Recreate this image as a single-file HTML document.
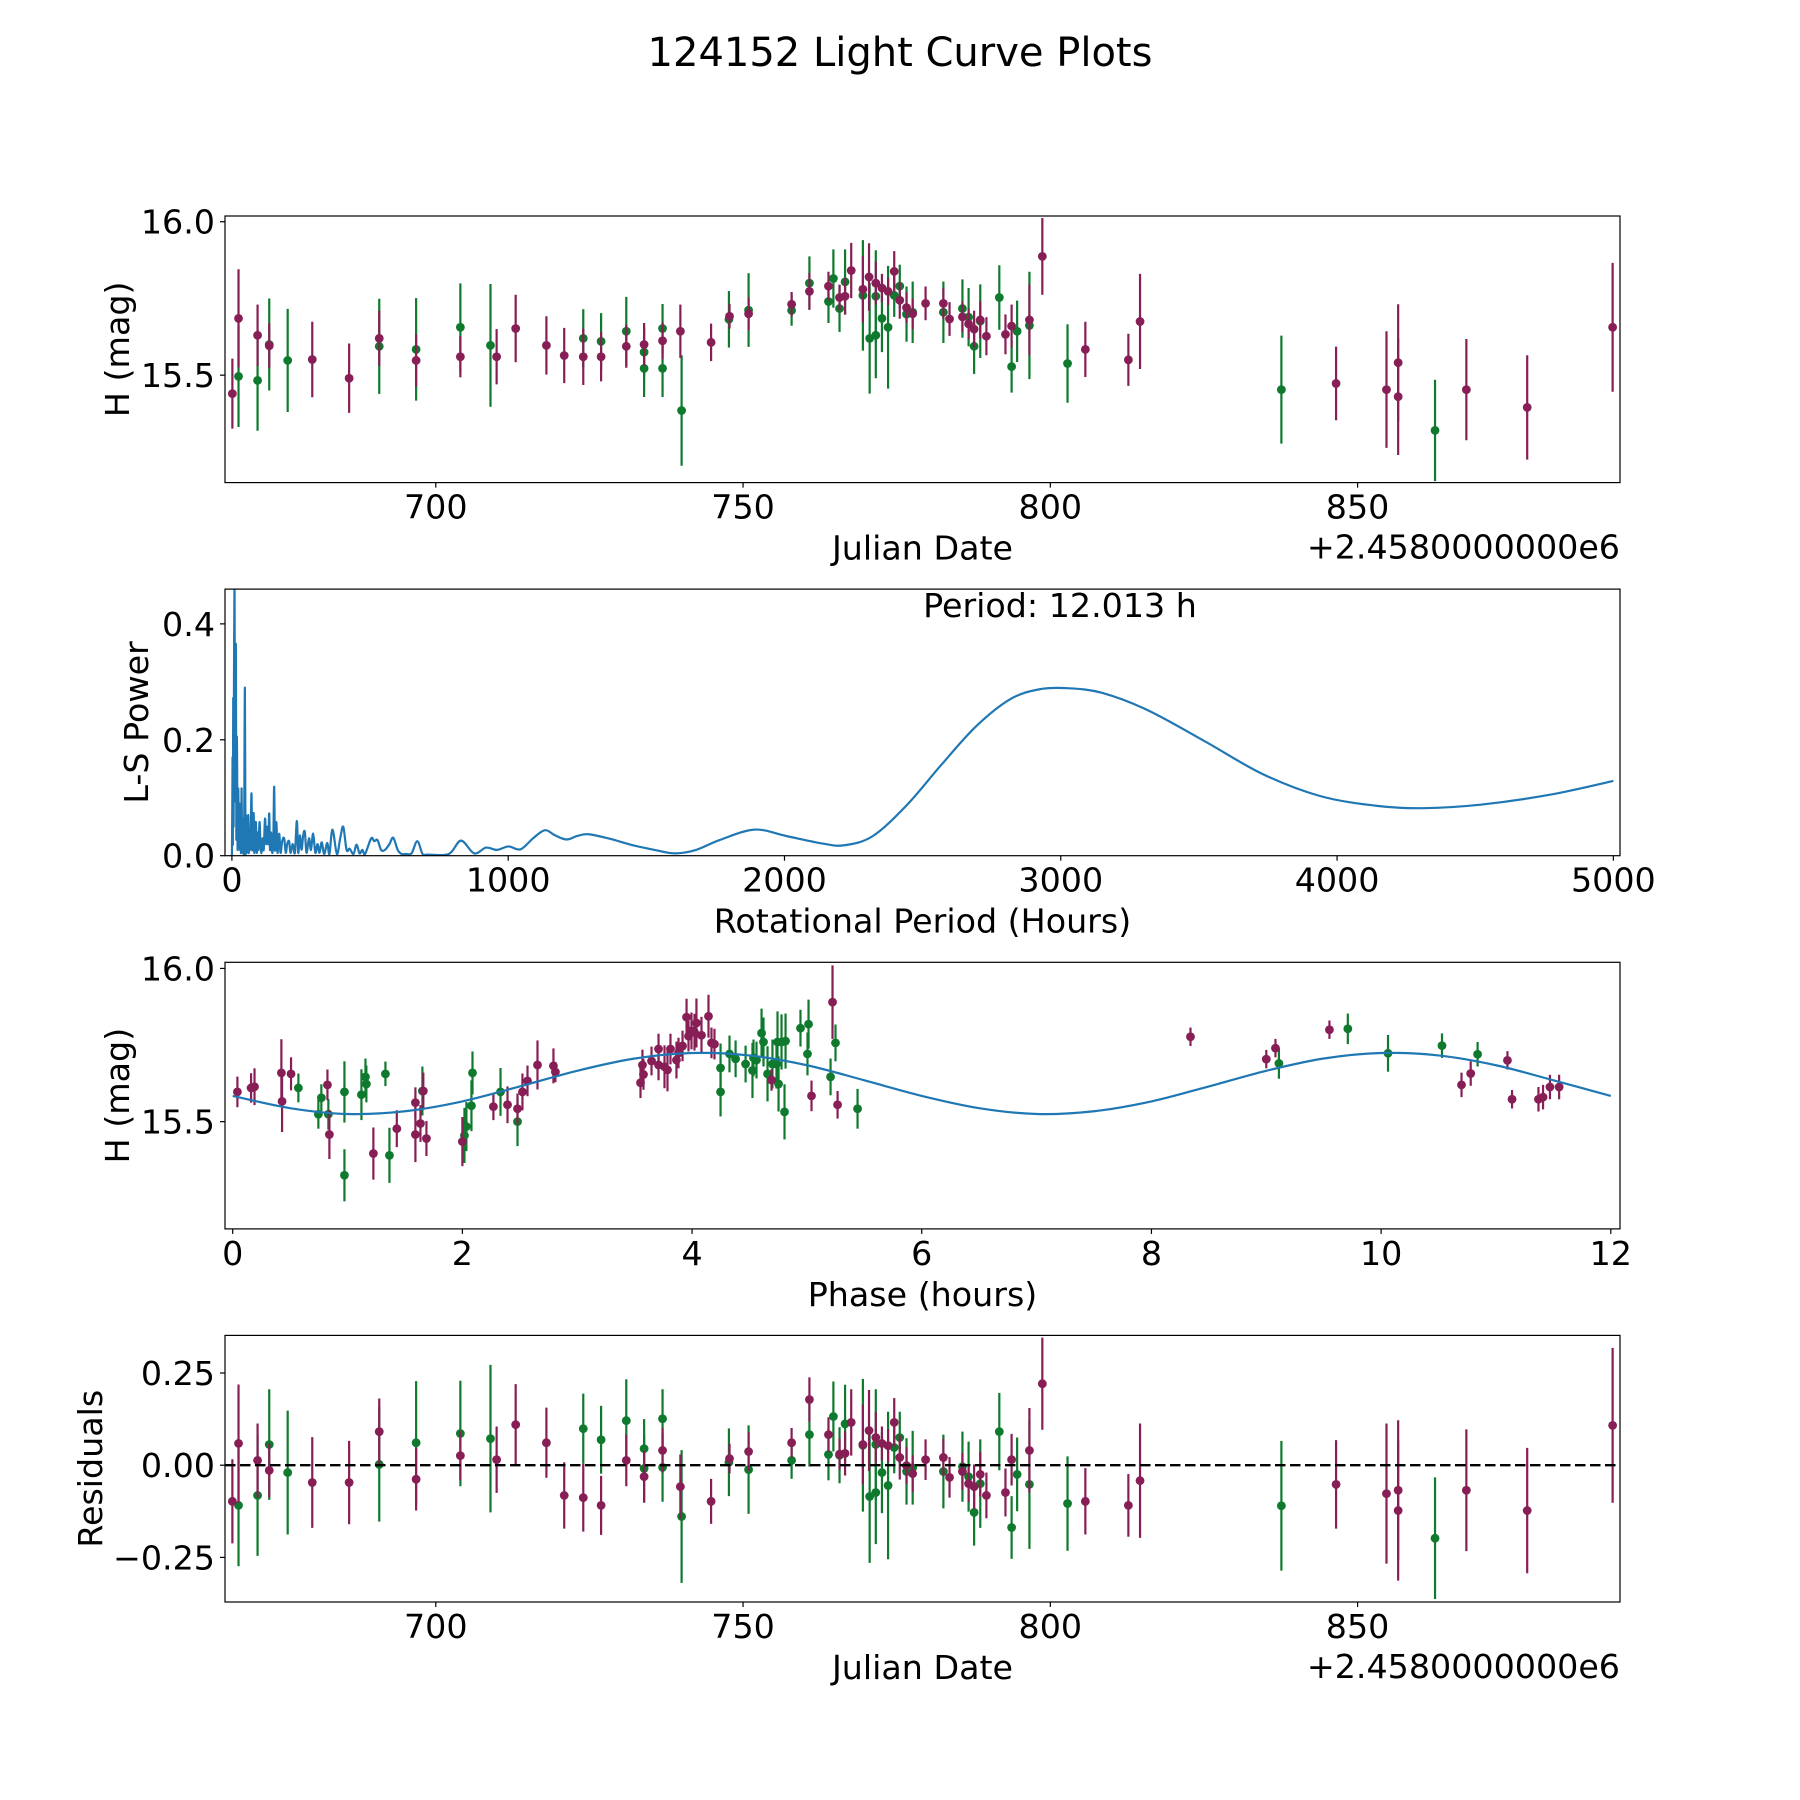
<!DOCTYPE html>
<html>
<head>
<meta charset="utf-8">
<style>
  html, body { margin: 0; padding: 0; background: #ffffff; }
  svg { display: block; font-family: "DejaVu Sans", "Liberation Sans", sans-serif; }
</style>
</head>
<body>
<svg id="fig" width="1800" height="1800" viewBox="0 0 1800 1800" xmlns="http://www.w3.org/2000/svg">
  <rect x="0" y="0" width="1800" height="1800" fill="#ffffff"/>
  <text x="900" y="66" font-size="40" text-anchor="middle" fill="#000">124152 Light Curve Plots</text>
</svg>
<script>
// ---------- Light curve data (Julian Date offset from 2458000) ----------
const lcDate = [666.9,667.9,667.9,671.0,671.0,672.9,672.9,675.9,679.9,685.9,
  690.8,690.8,696.8,696.8,704.0,704.0,708.9,709.9,713.0,718.0,
  720.9,724.0,724.0,726.9,726.9,731.0,731.0,733.9,733.9,733.9,
  736.9,736.9,736.9,739.8,740.0,744.8,747.7,747.8,750.9,750.9,
  757.9,757.9,760.8,760.8,763.9,763.9,764.7,765.7,765.7,766.6,
  766.6,767.6,769.5,769.5,770.5,770.6,771.6,771.6,771.6,772.6,
  772.6,773.6,773.6,774.6,774.6,775.5,775.5,776.6,776.6,777.6,
  777.6,779.7,782.6,782.6,783.6,785.7,785.7,786.7,786.7,787.6,
  787.6,788.6,788.6,789.6,791.7,792.7,793.7,793.7,794.6,796.6,
  796.6,798.7,802.8,805.7,812.7,814.6,837.6,846.5,854.7,856.6,
  856.6,862.6,867.7,877.6,891.5];
const lcMag = [15.44,15.685,15.496,15.63,15.483,15.596,15.60,15.548,15.551,15.49,
  15.62,15.594,15.584,15.548,15.656,15.56,15.597,15.56,15.652,15.597,
  15.564,15.62,15.56,15.61,15.56,15.643,15.594,15.60,15.575,15.522,
  15.612,15.652,15.522,15.643,15.385,15.607,15.682,15.692,15.712,15.70,
  15.711,15.731,15.80,15.773,15.79,15.74,15.815,15.717,15.753,15.804,
  15.757,15.841,15.78,15.76,15.82,15.62,15.80,15.757,15.63,15.784,
  15.685,15.773,15.656,15.838,15.76,15.79,15.744,15.72,15.699,15.705,
  15.70,15.734,15.705,15.734,15.683,15.717,15.69,15.689,15.667,15.65,
  15.594,15.676,15.68,15.627,15.753,15.633,15.66,15.528,15.643,15.68,
  15.662,15.887,15.538,15.584,15.55,15.675,15.453,15.473,15.453,15.541,
  15.43,15.32,15.453,15.395,15.656];
const lcErr = [0.114,0.16,0.165,0.1,0.164,0.073,0.15,0.168,0.123,0.113,
  0.09,0.155,0.167,0.085,0.143,0.067,0.2,0.09,0.11,0.095,
  0.09,0.095,0.092,0.092,0.08,0.112,0.07,0.07,0.08,0.093,
  0.06,0.08,0.093,0.087,0.18,0.061,0.092,0.04,0.12,0.053,
  0.05,0.04,0.087,0.06,0.047,0.07,0.095,0.076,0.042,0.106,
  0.06,0.09,0.108,0.18,0.11,0.18,0.07,0.15,0.14,0.046,
  0.11,0.045,0.2,0.066,0.07,0.07,0.06,0.05,0.09,0.1,
  0.05,0.055,0.1,0.05,0.055,0.095,0.05,0.095,0.05,0.06,
  0.09,0.12,0.06,0.062,0.105,0.065,0.07,0.085,0.1,0.115,
  0.175,0.125,0.128,0.09,0.085,0.155,0.176,0.12,0.19,0.19,
  0.19,0.165,0.165,0.17,0.21];
const lcFilter = ["m","m","g","m","g","m","g","g","m","m",
  "m","g","g","m","g","m","g","m","m","m",
  "m","g","m","g","m","g","m","m","g","g",
  "m","g","g","m","g","m","g","m","g","m",
  "g","m","g","m","m","g","g","g","m","g",
  "m","m","m","g","m","g","m","g","g","m",
  "g","m","g","m","g","g","m","m","g","g",
  "m","m","g","m","m","g","m","g","m","m",
  "g","g","m","m","g","m","m","g","g","m",
  "g","m","g","m","m","m","g","m","m","m",
  "m","g","m","m","m"];
const lcResid = [-0.098,0.059,-0.109,0.013,-0.082,-0.014,0.056,-0.02,-0.047,-0.047,
  0.091,0.002,0.061,-0.038,0.086,0.026,0.072,0.015,0.11,0.061,
  -0.082,0.099,-0.088,0.069,-0.109,0.121,0.013,-0.031,0.045,-0.009,
  0.04,0.126,-0.006,-0.058,-0.139,-0.098,0.008,0.018,-0.012,0.037,
  0.013,0.061,0.083,0.178,0.083,0.029,0.132,0.027,0.03,0.112,
  0.032,0.116,0.056,0.054,0.094,-0.085,0.075,0.056,-0.074,0.059,
  -0.02,0.053,-0.055,0.116,0.048,0.075,0.021,-0.001,-0.017,-0.007,
  -0.023,0.015,-0.017,0.021,-0.033,-0.004,-0.017,-0.031,-0.05,-0.058,
  -0.128,-0.05,-0.025,-0.082,0.091,-0.074,0.015,-0.169,-0.025,0.04,
  -0.052,0.221,-0.104,-0.098,-0.109,-0.042,-0.11,-0.052,-0.077,-0.068,
  -0.123,-0.198,-0.068,-0.123,0.108];

// ---------- Periodogram data ----------
const pgPeriod = [0,1.5,2.4,3.3,4.8,6,7.5,9.6,11,12.5,14.4,16,17.5,19,20.5,23,25,27,29,31,33,35,37,38.5,40,42,44,47,49,50.6,53,55,57,59,61,63,65,68,71,73,76,79,81,84,87,90,93,96,100,103.5,107,111,115,120,124,128,132,135,138,142,146,150,153,156,161,165,171,176,182,189,195,200,207,212,220,228,235,240,246,252,258,264,270,279,286,294,302,310,317,325,334,345,353,364,380,392,403,415,426,440,451,462,472,482,504,515,527,540,554,570,584,600,614,630,650,671,690,707,785,829,877,920,959,1001,1045,1090,1133,1170,1211,1250,1290,1370,1452,1530,1602,1680,1765,1891,2006,2138,2216,2320,2444,2568,2693,2817,2921,3025,3149,3315,3523,3730,3938,4145,4311,4519,4768,5000];
const pgPower = [0,0.09,0.168,0.02,0.272,0.05,0.3,0.468,0.1,0.25,0.358,0.03,0.2,0.15,0.01,0.116,0.02,0.09,0.01,0.07,0.005,0.116,0.01,0.064,0.005,0.06,0.01,0.29,0.01,0.07,0.005,0.05,0.01,0.07,0.005,0.045,0.01,0.05,0.107,0.01,0.06,0.07,0.005,0.045,0.056,0.005,0.04,0.01,0.058,0.02,0.005,0.03,0.01,0.064,0.02,0.05,0.02,0.073,0.01,0.04,0.005,0.03,0.119,0.01,0.058,0.005,0.038,0.005,0.025,0.03,0.005,0.02,0.025,0.005,0.02,0.005,0.06,0.005,0.035,0.01,0.035,0.041,0.005,0.03,0.01,0.038,0.005,0.02,0.005,0.023,0.003,0.022,0.003,0.045,0.003,0.03,0.05,0.01,0.012,0.003,0.019,0.004,0.01,0.003,0.03,0.025,0.027,0.01,0.01,0.02,0.031,0.01,0.003,0.003,0.004,0.025,0.003,0.002,0.003,0.026,0.004,0.014,0.01,0.016,0.011,0.03,0.044,0.035,0.028,0.034,0.037,0.029,0.018,0.01,0.004,0.01,0.027,0.045,0.034,0.021,0.018,0.034,0.088,0.157,0.223,0.27,0.287,0.289,0.281,0.251,0.197,0.141,0.103,0.086,0.082,0.088,0.105,0.129];

// ---------- Phase-folded data (hours) ----------
const phPhase = [0.041,0.16,0.19,0.424,0.43,0.508,0.572,0.746,0.772,0.825,0.833,0.842,0.973,0.973,1.121,1.156,1.164,1.225,1.33,1.365,1.429,1.591,1.591,1.635,1.652,1.66,1.687,2.0,2.018,2.035,2.079,2.088,2.27,2.332,2.393,2.48,2.48,2.523,2.567,2.654,2.793,2.81,
  3.551,3.568,3.577,3.647,3.708,3.708,3.76,3.786,3.812,3.864,3.882,3.917,3.952,3.969,3.995,4.021,4.038,4.082,4.143,4.169,4.195,4.248,4.248,4.326,4.379,4.466,4.526,4.535,4.561,4.605,4.622,4.657,4.692,4.70,4.735,4.744,4.753,4.779,4.805,4.814,4.944,5.005,5.014,5.04,5.206,5.223,5.249,5.267,5.441,
  8.34,9.0,9.08,9.11,9.55,9.71,10.06,10.53,10.70,10.78,10.84,11.1,11.14,11.37,11.41,11.47,11.55];
const phMag = [15.597,15.61,15.614,15.659,15.566,15.656,15.61,15.524,15.578,15.62,15.524,15.458,15.597,15.325,15.588,15.646,15.623,15.396,15.656,15.39,15.477,15.562,15.458,15.494,15.6,15.6,15.445,15.435,15.455,15.484,15.552,15.659,15.549,15.597,15.555,15.542,15.5,15.597,15.633,15.685,15.682,15.662,
  15.627,15.685,15.654,15.698,15.737,15.685,15.679,15.669,15.737,15.701,15.724,15.747,15.841,15.779,15.796,15.792,15.822,15.782,15.844,15.757,15.753,15.675,15.597,15.721,15.705,15.688,15.667,15.708,15.701,15.789,15.76,15.656,15.636,15.688,15.688,15.76,15.623,15.76,15.532,15.763,15.805,15.721,15.818,15.584,15.646,15.89,15.757,15.555,15.542,
  15.777,15.704,15.74,15.69,15.8,15.803,15.723,15.748,15.62,15.657,15.72,15.70,15.573,15.573,15.58,15.613,15.613];
const phErr = [0.05,0.048,0.06,0.11,0.1,0.054,0.047,0.047,0.044,0.05,0.05,0.08,0.1,0.085,0.083,0.06,0.06,0.085,0.04,0.09,0.06,0.05,0.09,0.06,0.08,0.06,0.057,0.08,0.09,0.08,0.083,0.07,0.044,0.078,0.06,0.05,0.08,0.06,0.05,0.08,0.057,0.033,
  0.05,0.05,0.05,0.047,0.05,0.05,0.07,0.07,0.05,0.06,0.05,0.05,0.06,0.05,0.06,0.06,0.08,0.06,0.07,0.05,0.05,0.08,0.08,0.06,0.06,0.06,0.09,0.06,0.06,0.08,0.08,0.09,0.035,0.08,0.08,0.1,0.09,0.09,0.09,0.09,0.06,0.07,0.08,0.05,0.06,0.12,0.06,0.045,0.065,
  0.03,0.03,0.03,0.05,0.03,0.05,0.06,0.04,0.04,0.04,0.04,0.03,0.03,0.04,0.04,0.04,0.04];
const phFilter = ["m","m","m","m","m","m","g","g","g","m","g","m","g","g","g","g","g","m","g","g","m","m","m","m","g","m","m","m","g","g","g","g","m","g","m","m","g","m","m","m","m","m",
  "m","m","m","m","m","m","m","m","m","m","m","m","m","m","m","m","m","m","m","m","m","g","g","g","g","g","g","g","g","g","g","g","m","g","g","g","g","g","g","g","g","g","g","m","g","m","g","m","g",
  "m","m","m","g","m","g","g","g","m","m","g","m","m","m","m","m","m"];

// ---------- Fitted model (sampled) ----------
const fitPhase = [0,0.5,1,1.5,2,2.5,3,3.5,4,4.5,5,5.5,6,6.5,7,7.5,8,8.5,9,9.5,10,10.5,11,11.5,12];
const fitMag = [15.584,15.544,15.525,15.534,15.566,15.615,15.666,15.706,15.724,15.716,15.684,15.635,15.584,15.544,15.525,15.534,15.566,15.615,15.666,15.706,15.724,15.716,15.684,15.635,15.584];

// ---------- Tick labels ----------
const jdTicks = [700, 750, 800, 850];
const magTicks = [15.5, 16.0];
const pgXTicks = [0, 1000, 2000, 3000, 4000, 5000];
const pgYTicks = [0.0, 0.2, 0.4];
const phXTicks = [0, 2, 4, 6, 8, 10, 12];
const resTicks = [-0.25, 0.0, 0.25];

const NS = "http://www.w3.org/2000/svg";
const svg = document.getElementById("fig");
const COL = { m: "#871e55", g: "#0f7a2d" };
const L = 225, R = 1620, H = 266.6;
const TOPS = [216, 589.1, 962.3, 1335.4];
const FS = 33.3;

function el(tag, attrs, parent) {
  const e = document.createElementNS(NS, tag);
  for (const k in attrs) e.setAttribute(k, attrs[k]);
  (parent || svg).appendChild(e);
  return e;
}
function linScale(d0, d1, r0, r1) { return v => r0 + (v - d0) / (d1 - d0) * (r1 - r0); }
function fmtMinus(s) { return s.replace("-", "\u2212"); }

function makePanel(idx, name, xd, yd) {
  const top = TOPS[idx], bot = top + H;
  const g = el("g", {});
  
  
  const clipId = "clip" + idx;
  const cp = el("clipPath", { id: clipId }, g);
  el("rect", { x: L, y: top, width: R - L, height: H }, cp);
  const plot = el("g", { "clip-path": "url(#" + clipId + ")" }, g);
  
  
  return { g, plot, top, bot, sx: linScale(xd[0], xd[1], L, R), sy: linScale(yd[0], yd[1], bot, top) };
}
function drawFrame(p, name) {
  const f = el("rect", { x: L, y: p.top, width: R - L, height: H, fill: "none", stroke: "#000", "stroke-width": 1.2 }, p.g);
  
  
}
function xTicks(p, ticks, fmt, name) {
  ticks.forEach(t => {
    const x = p.sx(t);
    const tl = el("line", { x1: x, x2: x, y1: p.bot, y2: p.bot + 5, stroke: "#000", "stroke-width": 1.2 }, p.g);
    
    
    const tx = el("text", { x: x, y: p.bot + 36, "font-size": FS, "text-anchor": "middle", fill: "#000" }, p.g);
    tx.textContent = fmt(t);
    
    
  });
}
function yTicks(p, ticks, fmt, name) {
  ticks.forEach(t => {
    const y = p.sy(t);
    const tl = el("line", { x1: L - 5, x2: L, y1: y, y2: y, stroke: "#000", "stroke-width": 1.2 }, p.g);
    
    
    const tx = el("text", { x: L - 10, y: y + 12, "font-size": FS, "text-anchor": "end", fill: "#000" }, p.g);
    tx.textContent = fmtMinus(fmt(t));
    
    
  });
}
function xLabel(p, txt, name) {
  const t = el("text", { x: (L + R) / 2, y: p.bot + 77, "font-size": FS, "text-anchor": "middle", fill: "#000" }, p.g);
  t.textContent = txt;
  
  
}
function yLabel(p, txt, bx, name) {
  const cy = p.top + H / 2;
  const t = el("text", { x: bx, y: cy, "font-size": FS, "text-anchor": "middle", fill: "#000", transform: "rotate(-90 " + bx + " " + cy + ")" }, p.g);
  t.textContent = txt;
  
  
}
function offsetText(p, name) {
  const t = el("text", { x: R, y: p.bot + 76, "font-size": FS, "text-anchor": "end", fill: "#000" }, p.g);
  t.textContent = "+2.4580000000e6";
  
  
}
function errPoints(p, xs, ys, es, fs, name) {
  ["g", "m"].forEach(f => {
    xs.forEach((xv, i) => {
      if (fs[i] !== f) return;
      const x = p.sx(xv);
      const ln = el("line", { x1: x, x2: x, y1: p.sy(ys[i] - es[i]), y2: p.sy(ys[i] + es[i]), stroke: COL[f], "stroke-width": 2.2 }, p.plot);
      
      
    });
    xs.forEach((xv, i) => {
      if (fs[i] !== f) return;
      const c = el("circle", { cx: p.sx(xv), cy: p.sy(ys[i]), r: 4.4, fill: COL[f] }, p.plot);
      
      
    });
  });
}
function smoothPath(pts) {
  let d = "M" + pts[0][0].toFixed(2) + "," + pts[0][1].toFixed(2);
  for (let i = 0; i < pts.length - 1; i++) {
    const p0 = pts[Math.max(0, i - 1)], p1 = pts[i], p2 = pts[i + 1], p3 = pts[Math.min(pts.length - 1, i + 2)];
    const c1x = p1[0] + (p2[0] - p0[0]) / 6, c1y = p1[1] + (p2[1] - p0[1]) / 6;
    const c2x = p2[0] - (p3[0] - p1[0]) / 6, c2y = p2[1] - (p3[1] - p1[1]) / 6;
    d += " C" + c1x.toFixed(2) + "," + c1y.toFixed(2) + " " + c2x.toFixed(2) + "," + c2y.toFixed(2) + " " + p2[0].toFixed(2) + "," + p2[1].toFixed(2);
  }
  return d;
}

// ---------- Panel 1: light curve vs Julian date ----------
const p1 = makePanel(0, "light-curve-panel", [665.7, 892.7], [15.15, 16.0186]);
errPoints(p1, lcDate, lcMag, lcErr, lcFilter, "light-curve");
drawFrame(p1, "light-curve");
xTicks(p1, jdTicks, t => String(t), "light-curve");
yTicks(p1, magTicks, t => t.toFixed(1), "light-curve");
xLabel(p1, "Julian Date", "light-curve-x-axis-title");
yLabel(p1, "H (mag)", 129, "light-curve-y-axis-title");
offsetText(p1, "light-curve-offset-text");

// ---------- Panel 2: periodogram ----------
const p2 = makePanel(1, "periodogram-panel", [-25, 5024], [0, 0.46]);
{
  const pts = pgPeriod.map((h, i) => [p2.sx(h), p2.sy(pgPower[i])]);
  const path = el("path", { d: smoothPath(pts), fill: "none", stroke: "#1f77b4", "stroke-width": 2.2, "stroke-linejoin": "round" }, p2.plot);
  
  
}
drawFrame(p2, "periodogram");
xTicks(p2, pgXTicks, t => String(t), "periodogram");
yTicks(p2, pgYTicks, t => t.toFixed(1), "periodogram");
xLabel(p2, "Rotational Period (Hours)", "periodogram-x-axis-title");
yLabel(p2, "L-S Power", 148, "periodogram-y-axis-title");
{
  const t = el("text", { x: 1060, y: 617, "font-size": 33.3, "text-anchor": "middle", fill: "#000" }, p2.g);
  t.textContent = "Period: 12.013 h";
  
  
}

// ---------- Panel 3: phase-folded ----------
const p3 = makePanel(2, "phase-panel", [-0.067, 12.08], [15.15, 16.02]);
errPoints(p3, phPhase, phMag, phErr, phFilter, "phase");
{
  const pts = fitPhase.map((ph, i) => [p3.sx(ph), p3.sy(fitMag[i])]);
  const path = el("path", { d: smoothPath(pts), fill: "none", stroke: "#1f77b4", "stroke-width": 2.2 }, p3.plot);
  
  
}
drawFrame(p3, "phase");
xTicks(p3, phXTicks, t => String(t), "phase");
yTicks(p3, magTicks, t => t.toFixed(1), "phase");
xLabel(p3, "Phase (hours)", "phase-x-axis-title");
yLabel(p3, "H (mag)", 129, "phase-y-axis-title");

// ---------- Panel 4: residuals ----------
const p4 = makePanel(3, "residuals-panel", [665.7, 892.7], [-0.371, 0.352]);
errPoints(p4, lcDate, lcResid, lcErr, lcFilter, "residual");
{
  const zl = el("line", { x1: L, x2: R, y1: p4.sy(0), y2: p4.sy(0), stroke: "#000", "stroke-width": 2.4, "stroke-dasharray": "10.5 4.5" }, p4.plot);
  
  
}
drawFrame(p4, "residuals");
xTicks(p4, jdTicks, t => String(t), "residuals");
yTicks(p4, resTicks, t => t.toFixed(2), "residuals");
xLabel(p4, "Julian Date", "residuals-x-axis-title");
yLabel(p4, "Residuals", 102, "residuals-y-axis-title");
offsetText(p4, "residuals-offset-text");
</script>
</body>
</html>
